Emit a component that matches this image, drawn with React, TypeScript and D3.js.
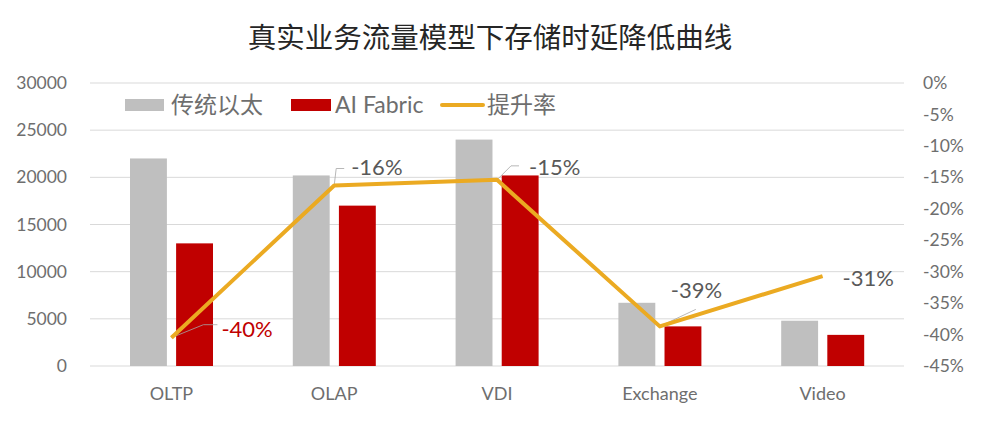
import React from "react";
import * as d3 from "d3";

const categories = ["OLTP", "OLAP", "VDI", "Exchange", "Video"];
const ethernet = [22000, 20200, 24000, 6700, 4800];
const aiFabric = [13000, 17000, 20200, 4200, 3300];
const improvement = [-0.405, -0.163, -0.154, -0.387, -0.307];
const improvementLabels = ["-40%", "-16%", "-15%", "-39%", "-31%"];
const leftTicks = [0, 5000, 10000, 15000, 20000, 25000, 30000];
const rightTicks = [0, -0.05, -0.1, -0.15, -0.2, -0.25, -0.3, -0.35, -0.4, -0.45];
const seriesNames = ["传统以太", "AI Fabric", "提升率"];
const title = "真实业务流量模型下存储时延降低曲线";

const W = 981;
const H = 434;
const plot = { left: 90, right: 904, top: 83, bottom: 366 };
const GRAY = "#BFBFBF";
const RED = "#C00000";
const GOLD = "#EBAA22";
const TEXT = "#595959";
const AXIS = "#6E6E6E";
const LATIN = "Lato, 'Open Sans', sans-serif";
const CJK = "'Noto Sans CJK SC', sans-serif";

// label offsets (layout only)
const labelPos = [
  { dx: 50, dy: -8, color: RED, leader: [[0, 0], [32, -13], [46, -13]] },
  { dx: 17, dy: -18, color: TEXT, leader: [[0, 0], [2, -17], [10, -17]] },
  { dx: 32, dy: -13, color: TEXT, leader: [[0, 0], [14, -14], [22, -14]] },
  { dx: 11, dy: -36, color: TEXT, leader: [[0, 0], [36, -17]] },
  { dx: 20, dy: 2, color: TEXT, leader: null as null | number[][] },
];

export default function App() {
  const x = d3.scaleBand<string>().domain(categories).range([plot.left, plot.right]);
  const inner = d3
    .scaleBand<string>()
    .domain(["eth", "ai"])
    .range([40, 123])
    .paddingInner(0.2);
  const yL = d3.scaleLinear().domain([0, 30000]).range([plot.bottom, plot.top]);
  const yR = d3.scaleLinear().domain([-0.45, 0]).range([plot.bottom, plot.top]);
  const pct = d3.format(".0%");

  const linePts: [number, number][] = categories.map((c, i) => [
    (x(c) as number) + x.bandwidth() / 2,
    yR(improvement[i]),
  ]);
  const lineGen = d3.line();

  return (
    <svg width={W} height={H} style={{ position: "absolute", left: 0, top: 0, background: "#fff" }}>
      <rect x={0} y={0} width={W} height={H} fill="#fff" />
      <text x={490} y={48} textAnchor="middle" fontFamily={CJK} fontSize={28.5} fill="#262626">
        {title}
      </text>

      {leftTicks.map((t) => (
        <g key={"g" + t}>
          <line x1={plot.left} x2={plot.right} y1={yL(t)} y2={yL(t)} stroke="#D9D9D9" strokeWidth={1} />
          <text x={67} y={yL(t)} dy="0.35em" textAnchor="end" fontFamily={LATIN} fontSize={17.5} fill={AXIS}>
            {t}
          </text>
        </g>
      ))}
      {rightTicks.map((t) => (
        <text key={"r" + t} x={923} y={yR(t)} dy="0.35em" textAnchor="start" fontFamily={LATIN} fontSize={17.5} fill={AXIS}>
          {pct(t).replace("−", "-")}
        </text>
      ))}

      {categories.map((c, i) => (
        <g key={c}>
          <rect
            x={(x(c) as number) + (inner("eth") as number)}
            y={yL(ethernet[i])}
            width={inner.bandwidth()}
            height={yL(0) - yL(ethernet[i])}
            fill={GRAY}
          />
          <rect
            x={(x(c) as number) + (inner("ai") as number)}
            y={yL(aiFabric[i])}
            width={inner.bandwidth()}
            height={yL(0) - yL(aiFabric[i])}
            fill={RED}
          />
          <text
            x={(x(c) as number) + x.bandwidth() / 2}
            y={394}
            dy="0.35em"
            textAnchor="middle"
            fontFamily={LATIN}
            fontSize={18}
            fill={AXIS}
          >
            {c}
          </text>
        </g>
      ))}

      {linePts.map((p, i) => {
        const lp = labelPos[i];
        return lp.leader ? (
          <polyline
            key={"ld" + i}
            points={lp.leader.map((q) => `${p[0] + q[0]},${p[1] + q[1]}`).join(" ")}
            fill="none"
            stroke="#A6A6A6"
            strokeWidth={0.8}
          />
        ) : null;
      })}

      <path d={lineGen(linePts) || ""} fill="none" stroke={GOLD} strokeWidth={4} strokeLinejoin="round" />

      {linePts.map((p, i) => {
        const lp = labelPos[i];
        return (
          <text
            key={"lb" + i}
            x={p[0] + lp.dx}
            y={p[1] + lp.dy}
            dy="0.35em"
            fontFamily={LATIN}
            fontSize={22}
            fill={lp.color}
          >
            {improvementLabels[i]}
          </text>
        );
      })}

      {/* legend */}
      <g>
        <rect x={125} y={99} width={39} height={12} fill={GRAY} />
        <text x={171} y={105} dy="0.35em" fontFamily={CJK} fontSize={23} fill={AXIS}>
          {seriesNames[0]}
        </text>
        <rect x={291} y={99} width={40} height={12} fill={RED} />
        <text x={335} y={105} dy="0.35em" fontFamily={LATIN} fontSize={23} fill={AXIS}>
          {seriesNames[1]}
        </text>
        <line x1={442} x2={483} y1={105} y2={105} stroke={GOLD} strokeWidth={4} strokeLinecap="round" />
        <text x={487} y={105} dy="0.35em" fontFamily={CJK} fontSize={23} fill={AXIS}>
          {seriesNames[2]}
        </text>
      </g>
    </svg>
  );
}
